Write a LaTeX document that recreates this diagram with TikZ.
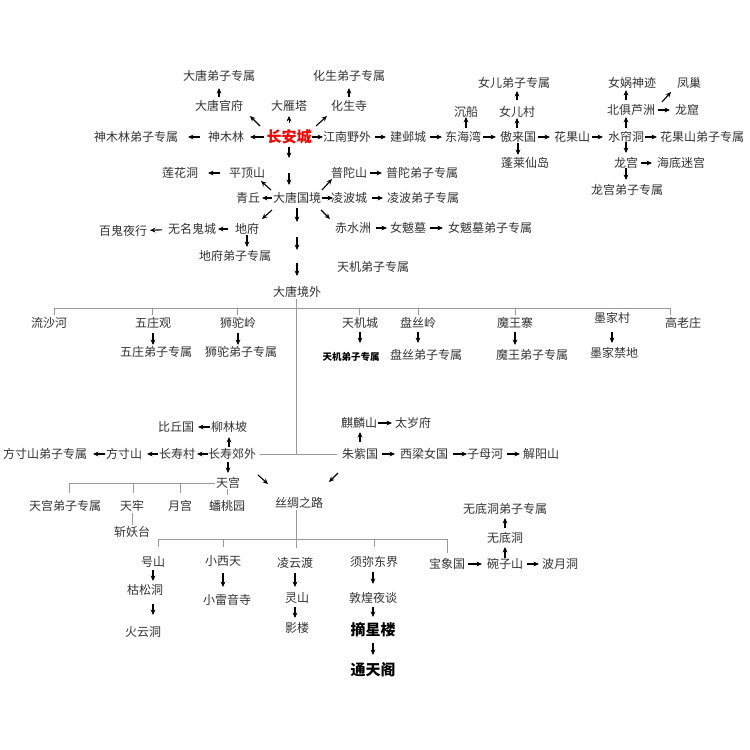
\documentclass[tikz,border=0pt]{standalone}
\usepackage{fontspec}
\setmainfont{Noto Sans CJK SC}
\usetikzlibrary{arrows.meta,calc}
\tikzset{
 t/.style={font=\fontsize{12}{14}\selectfont, text=black!80, inner sep=1pt},
 big/.style={font=\fontsize{15}{17}\selectfont\bfseries, inner sep=1pt},
 small/.style={font=\fontsize{9.5}{11}\selectfont\bfseries, inner sep=1pt},
 arr/.style={-{Stealth[length=5.5pt,width=4.8pt]}, line width=1.1pt, black},
 ln/.style={draw=black!40, line width=0.8pt},
 sh/.style 2 args={shorten <=#1pt, shorten >=#2pt},
}
\begin{document}
\begin{tikzpicture}[x=1pt,y=-1pt]
\useasboundingbox (0,0) rectangle (750,750);
\fill[white] (0,0) rectangle (750,750);
% ---------- upper part ----------
\node[t] (dtdz) at (219,76) {大唐弟子专属};
\node[t] (dtgf) at (219,106) {大唐官府};
\node[t] (dyt) at (289,106) {大雁塔};
\node[t] (hss) at (349,106) {化生寺};
\node[t] (hsdz) at (349,76) {化生弟子专属};
\node[big,text=red] (cac) at (289,137) {长安城};
\node[t] (sml) at (226,137) {神木林};
\node[t] (smldz) at (136,137) {神木林弟子专属};
\node[t] (jnyw) at (347,137) {江南野外};
\node[t] (jyc) at (408,137) {建邺城};
\node[t] (dhw) at (463,137) {东海湾};
\node[t] (alg) at (518,137) {傲来国};
\node[t] (hgs) at (572,137) {花果山};
\node[t] (slt) at (626,137) {水帘洞};
\node[t] (hgsdz) at (702,137) {花果山弟子专属};
\node[t] (cc) at (466,112) {沉船};
\node[t] (nec) at (517,112) {女儿村};
\node[t] (nedz) at (514,83) {女儿弟子专属};
\node[t] (plxd) at (525,163) {蓬莱仙岛};
\node[t] (bjlz) at (631,110) {北俱芦洲};
\node[t] (nwsj) at (632,83) {女娲神迹};
\node[t] (fc) at (689,83) {凤巢};
\node[t] (lk) at (687,110) {龙窟};
\node[t] (lg) at (626,163) {龙宫};
\node[t] (hdmg) at (681,163) {海底迷宫};
\node[t] (lgdz) at (627,190) {龙宫弟子专属};
\node[t] (pds) at (247,173) {平顶山};
\node[t] (lhd) at (180,173) {莲花洞};
\node[t] (pts) at (349,173) {普陀山};
\node[t] (ptdz) at (422,173) {普陀弟子专属};
\node[t] (dtgj) at (297,198) {大唐国境};
\node[t] (qq) at (248,198) {青丘};
\node[t] (lbc) at (349,198) {凌波城};
\node[t] (lbdz) at (423,198) {凌波弟子专属};
\node[t] (df) at (247,229) {地府};
\node[t] (wmgc) at (192,229) {无名鬼城};
\node[t] (bgyx) at (123,231) {百鬼夜行};
\node[t] (dfdz) at (235,256) {地府弟子专属};
\node[t] (csz) at (353,228) {赤水洲};
\node[t] (nbm) at (408,228) {女魃墓};
\node[t] (nbmdz) at (490,228) {女魃墓弟子专属};
\node[t] (tjdz1) at (373,267) {天机弟子专属};
\node[t] (dtjw) at (297,292) {大唐境外};

\draw[arr,sh={9}{12}] (dtgf.center) -- (dtdz.center);
\draw[arr,sh={9}{12}] (hss.center) -- (hsdz.center);
\draw[arr,line width=0.6pt,sh={14}{10}] (cac.center) -- (dyt.center);
\draw[arr] ([shift={(-29,-11)}]cac.center) -- ++(-10,-10);
\draw[arr] ([shift={(27,-11)}]cac.center) -- ++(11,-10);
\draw[arr,sh={25}{24}] (cac.center) -- (sml.center);
\draw[arr,sh={26}{52}] (sml.center) -- (smldz.center);
\draw[arr,sh={23}{24}] (cac.center) -- (jnyw.center);
\draw[arr,sh={28}{22}] (jnyw.center) -- (jyc.center);
\draw[arr,sh={22}{21}] (jyc.center) -- (dhw.center);
\draw[arr,sh={20}{22}] (dhw.center) -- (alg.center);
\draw[arr,sh={20}{22}] (alg.center) -- (hgs.center);
\draw[arr,sh={20}{23}] (hgs.center) -- (slt.center);
\draw[arr,sh={19}{45}] (slt.center) -- (hgsdz.center);
\draw[arr,sh={9}{5}] (cc |- dhw) -- (cc.center);
\draw[arr,sh={9}{6}] (nec |- alg) -- (nec.center);
\draw[arr,sh={12}{8}] (nec.center) -- (nec |- nedz);
\draw[arr,sh={6}{8}] (alg.center) -- (alg |- plxd);
\draw[arr,sh={9}{7}] (slt.center) -- (slt |- bjlz);
\draw[arr,sh={10}{7}] (slt |- bjlz) -- (slt |- nwsj);
\draw[arr] ([shift={(31,-8)}]bjlz.center) -- ++(9,-10);
\draw[arr,sh={27}{17}] (bjlz.center) -- (lk.center);
\draw[arr,sh={5}{10}] (slt.center) -- (lg.center);
\draw[arr,sh={15}{29}] (lg.center) -- (hdmg.center);
\draw[arr,sh={5}{10}] (lg.center) -- (lg |- lgdz);
\draw[arr,sh={10}{15}] (cac.center) -- (cac |- pds);
\draw[arr,sh={0}{13}] (cac |- pds) -- (cac |- dtgj);
\draw[arr,sh={27}{28}] (pds.center) -- (lhd.center);
\draw[arr,sh={25}{14}] (dtgj.center) -- (qq.center);
\draw[arr] ([shift={(-26,-8)}]dtgj.center) -- ++(-10,-9);
\draw[arr] ([shift={(25,-8)}]dtgj.center) -- ++(10,-11);
\draw[arr,sh={25}{16}] (dtgj.center) -- (lbc.center);
\draw[arr,sh={21}{40}] (pts.center) -- (ptdz.center);
\draw[arr,sh={23}{40}] (lbc.center) -- (lbdz.center);
\draw[arr] ([shift={(-25,12)}]dtgj.center) -- ++(-10,9);
\draw[arr,sh={19}{26}] (df.center) -- (wmgc.center);
\draw[arr,sh={30}{27}] (wmgc.center) -- (bgyx.center);
\draw[arr,sh={6}{9}] (df.center) -- (df |- dfdz);
\draw[arr] ([shift={(24,12)}]dtgj.center) -- ++(9,9);
\draw[arr,sh={23}{21}] (csz.center) -- (nbm.center);
\draw[arr,sh={22}{47}] (nbm.center) -- (nbmdz.center);
\draw[arr,sh={10}{7}] (dtgj.center) -- (dtgj |- df);
\draw[arr,sh={8}{6}] (dtgj |- df) -- (dtgj |- dfdz);
\draw[arr,sh={7}{16}] (dtgj |- dfdz) -- (dtjw.center);

% ---------- middle row ----------
\node[t] (lsh) at (49,323) {流沙河};
\node[t] (wzg) at (153,323) {五庄观};
\node[t] (stl) at (238,323) {狮驼岭};
\node[t] (tjc) at (360,323) {天机城};
\node[t] (psl) at (418,323) {盘丝岭};
\node[t] (mwz) at (515,323) {魔王寨};
\node[t] (mjc) at (612,318) {墨家村};
\node[t] (glz) at (683,323) {高老庄};
\node[t] (wzdz) at (156,352) {五庄弟子专属};
\node[t] (stdz) at (241,352) {狮驼弟子专属};
\node[small] (tjdz2) at (351,357) {天机弟子专属};
\node[t] (psdz) at (426,355) {盘丝弟子专属};
\node[t] (mwdz) at (532,355) {魔王弟子专属};
\node[t] (mjjd) at (614,353) {墨家禁地};

\draw[ln] (dtjw.south -| 296,0) -- (296,454);
\draw[ln] (54,308) -- (670,308);
\foreach \x in {54,152,237,359,418,515,670} \draw[ln] (\x,308) -- (\x,315);

\draw[arr,sh={10}{7}] (wzg.center) -- (wzg |- wzdz);
\draw[arr,sh={10}{7}] (stl.center) -- (stl |- stdz);
\draw[arr,sh={9}{14}] (tjc.center) -- (tjc |- tjdz2);
\draw[arr,sh={9}{12}] (psl.center) -- (psl |- psdz);
\draw[arr,sh={9}{10}] (mwz.center) -- (mwz |- mwdz);
\draw[arr,sh={14}{10}] (mjc.center) -- (mjc |- mjjd);

% ---------- lower part ----------
\node[t] (bqg) at (176,427) {比丘国};
\node[t] (llp) at (229,427) {柳林坡};
\node[t] (csjw) at (232,454) {长寿郊外};
\node[t] (csc) at (177,454) {长寿村};
\node[t] (fcs) at (124,454) {方寸山};
\node[t] (fcsdz) at (45,454) {方寸山弟子专属};
\node[t] (tg) at (228,483) {天宫};
\node[t] (tgdz) at (65,506) {天宫弟子专属};
\node[t] (tl) at (132,506) {天牢};
\node[t] (yg) at (180,506) {月宫};
\node[t] (ptw) at (227,506) {蟠桃园};
\node[t] (zyt) at (132,532) {斩妖台};
\node[t] (scl) at (299,503) {丝绸之路};
\node[t] (qls) at (359,423) {麒麟山};
\node[t] (tsf) at (413,423) {太岁府};
\node[t] (zzg) at (360,454) {朱紫国};
\node[t] (xlng) at (424,454) {西梁女国};
\node[t] (zmh) at (485,454) {子母河};
\node[t] (jys) at (541,454) {解阳山};
\node[t] (wddz) at (505,509) {无底洞弟子专属};
\node[t] (wdd) at (505,538) {无底洞};
\node[t] (wzs) at (505,564) {碗子山};
\node[t] (bxg) at (447,564) {宝象国};
\node[t] (byd) at (560,564) {波月洞};
\node[t] (hs) at (153,562) {号山};
\node[t] (xxt) at (223,561) {小西天};
\node[t] (lyd) at (295,563) {凌云渡};
\node[t] (xmdj) at (374,562) {须弥东界};
\node[t] (ksd) at (145,590) {枯松洞};
\node[t] (hyd) at (143,632) {火云洞};
\node[t] (xlys) at (227,600) {小雷音寺};
\node[t] (ls) at (297,598) {灵山};
\node[t] (yl) at (297,628) {影楼};
\node[t] (dhyt) at (373,598) {敦煌夜谈};
\node[big] (zxl) at (373,630) {摘星楼};
\node[big] (tta) at (373,670) {通天阁};

\draw[ln] ([xshift=3pt]csjw.east) -- ([xshift=-4pt]zzg.west);
\draw[ln] (tg.west) -- (69,483);
\foreach \x in {69,133,180} \draw[ln] (\x,483) -- (\x,493);
\draw[ln] (227,489) -- (227,495);
\draw[ln] (tl.south) -- (zyt.north);
\draw[ln] (scl.south -| 296,0) -- (296,548);
\draw[ln] (158,539) -- (447,539);
\foreach \x in {158,223,374} \draw[ln] (\x,539) -- (\x,547);
\draw[ln] (447,539) -- (447,553);

\draw[arr,sh={19}{22}] (llp.center) -- (bqg.center);
\draw[arr,sh={7}{10}] (llp |- csjw) -- (llp.center);
\draw[arr,sh={24}{20}] (csjw.center) -- (csc.center);
\draw[arr,sh={19}{23}] (csc.center) -- (fcs.center);
\draw[arr,sh={19}{48}] (fcs.center) -- (fcsdz.center);
\draw[arr,sh={8}{10}] (tg |- csjw) -- (tg.center);
\draw[arr] ([shift={(26,21)}]csjw.center) -- ++(10,9);
\draw[arr] ([shift={(-22,19)}]zzg.center) -- ++(-9,9);
\draw[arr,sh={12}{9}] (zzg.center) -- (zzg |- qls);
\draw[arr,sh={19}{21}] (qls.center) -- (tsf.center);
\draw[arr,sh={22}{29}] (zzg.center) -- (xlng.center);
\draw[arr,sh={29}{18}] (xlng.center) -- (zmh.center);
\draw[arr,sh={22}{21}] (zmh.center) -- (jys.center);
\draw[arr,sh={10}{9}] (wdd.center) -- (wddz.center);
\draw[arr,sh={6}{9}] (wzs.center) -- (wdd.center);
\draw[arr,sh={21}{23}] (bxg.center) -- (wzs.center);
\draw[arr,sh={22}{21}] (wzs.center) -- (byd.center);
\draw[arr,sh={8}{9}] (hs.center) -- (hs |- ksd);
\draw[arr,sh={14}{17}] (hs |- ksd) -- (hs |- hyd);
\draw[arr,sh={12}{13}] (xxt.center) -- (xxt |- xlys);
\draw[arr,sh={10}{11}] (lyd.center) -- (lyd |- ls);
\draw[arr,sh={9}{10}] (lyd |- ls) -- (lyd |- yl);
\draw[arr,sh={10}{14}] (dhyt |- xmdj) -- (dhyt.center);
\draw[arr,sh={9}{13}] (dhyt.center) -- (zxl.center);
\draw[arr,sh={13}{15}] (zxl.center) -- (tta.center);
\end{tikzpicture}
\end{document}
